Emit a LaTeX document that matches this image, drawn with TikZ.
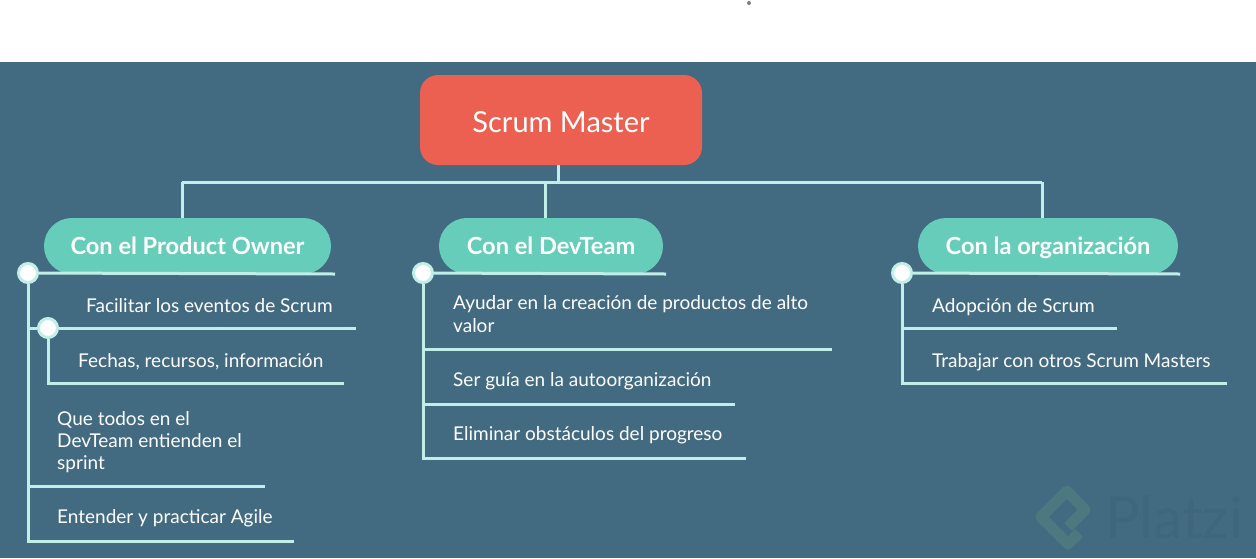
\documentclass[tikz,border=0pt]{standalone}
\usepackage{fontspec}
\setmainfont{Lato}
\usepackage{tikz}
\definecolor{slateback}{HTML}{426A81}
\definecolor{rootred}{HTML}{EC6052}
\definecolor{pillgreen}{HTML}{67CDBB}
\definecolor{linemint}{HTML}{C3EEE8}
\definecolor{logogreen}{HTML}{4C7880}
\definecolor{logotext}{HTML}{3F667C}
\tikzset{
    rootbox/.style={fill=rootred, rounded corners=18pt, minimum width=282pt, minimum height=90pt, text=white, text height=24pt, text depth=0pt, font=\fontsize{29}{34}\selectfont, inner sep=0pt},
    pillbox/.style={fill=pillgreen, rounded corners=27.9pt, minimum height=56pt, text=white, text height=16pt, text depth=0pt, font=\fontsize{23.6}{28}\bfseries\selectfont, inner sep=0pt},
    itemtext/.style={anchor=base west, text=white, font=\fontsize{19}{22.3}\selectfont, inner sep=0pt},
    longtext/.style={anchor=west, text=white, font=\fontsize{19}{22.3}\selectfont, align=left, inner sep=0pt},
    dotmark/.style={circle, fill=white, draw=linemint, line width=3pt, minimum size=19pt, inner sep=0pt},
    wire/.style={draw=linemint, line width=3pt},
}
\begin{document}
\begin{tikzpicture}[x=1pt, y=-1pt]
    \useasboundingbox (0,0) rectangle (1256,558);
    \fill[white] (0,0) rectangle (1256,558);
    \fill[slateback] (0,62) rectangle (1256,558);
    \fill[gray] (749,3) circle (2);

    % watermark
    \draw[logogreen, line width=11pt, line join=round] (1068,527) -- (1085,510) -- (1067,491) -- (1041,517) -- (1068,544) -- (1079,533);
    \node[text=logotext, font=\fontsize{58}{62}\selectfont, anchor=west, inner sep=0pt] (logoword) at (1105,517) {Platzi};

    % boxes
    \node[rootbox] (root) at (561,120) {Scrum Master};
    \node[pillbox, minimum width=287pt] (owner) at (187.5,246) {Con el Product Owner};
    \node[pillbox, minimum width=224pt] (devteam) at (551,246) {Con el DevTeam};
    \node[pillbox, minimum width=260pt] (orga) at (1048,246) {Con la organización};

    % top connectors
    \coordinate (rootfoot) at (558,165);
    \coordinate (bus) at (558,182);
    \coordinate (busl) at (182,182);
    \coordinate (busm) at (545,182);
    \coordinate (busr) at (1042,182);
    \coordinate (ownertop) at (182,218);
    \coordinate (devtop) at (545,218);
    \coordinate (orgatop) at (1042,218);
    \draw[wire] (rootfoot) -- (bus);
    \draw[wire] (busl) -- (busr);
    \draw[wire] (busl) -- (ownertop);
    \draw[wire] (busm) -- (devtop);
    \draw[wire] (busr) -- (orgatop);

    % left column
    \node[itemtext] (facil) at (86,312) {Facilitar los eventos de Scrum};
    \node[itemtext] (fechas) at (78,367) {Fechas, recursos, información};
    \node[longtext] (quetodos) at (57,442) {Que todos en el\\DevTeam entienden el\\sprint};
    \node[itemtext] (agile) at (57,523) {Entender y practicar Agile};
    \coordinate (ownerend) at (335,274);
    \coordinate (facilstart) at (28,328);
    \coordinate (facilend) at (356,328);
    \coordinate (fechascorner) at (48,383);
    \coordinate (fechasend) at (344,383);
    \coordinate (todosstart) at (28,486);
    \coordinate (todosend) at (265,486);
    \coordinate (agilecorner) at (28,541);
    \coordinate (agileend) at (294,541);
    \node[dotmark] (dotowner) at (28,273) {};
    \node[dotmark] (dotfacil) at (48,328) {};
    \draw[wire] (dotowner) -- (ownerend);
    \draw[wire] (dotowner) -- (agilecorner) -- (agileend);
    \draw[wire] (facilstart) -- (dotfacil) -- (facilend);
    \draw[wire] (dotfacil) -- (fechascorner) -- (fechasend);
    \draw[wire] (todosstart) -- (todosend);

    % middle column
    \node[longtext] (ayudar) at (453,314) {Ayudar en la creación de productos de alto\\valor};
    \node[itemtext] (guia) at (453,386) {Ser guía en la autoorganización};
    \node[itemtext] (elim) at (453,440) {Eliminar obstáculos del progreso};
    \coordinate (devend) at (666,274);
    \coordinate (ayudarstart) at (423,349);
    \coordinate (ayudarend) at (832,349);
    \coordinate (guiastart) at (423,404);
    \coordinate (guiaend) at (735,404);
    \coordinate (elimcorner) at (423,458);
    \coordinate (elimend) at (746,458);
    \node[dotmark] (dotdev) at (423,273) {};
    \draw[wire] (dotdev) -- (devend);
    \draw[wire] (dotdev) -- (elimcorner) -- (elimend);
    \draw[wire] (ayudarstart) -- (ayudarend);
    \draw[wire] (guiastart) -- (guiaend);

    % right column
    \node[itemtext] (adopcion) at (932,312) {Adopción de Scrum};
    \node[itemtext] (trabajar) at (932,367) {Trabajar con otros Scrum Masters};
    \coordinate (orgaend) at (1180,274);
    \coordinate (adopstart) at (902,328);
    \coordinate (adopend) at (1117,328);
    \coordinate (trabcorner) at (902,383);
    \coordinate (trabend) at (1227,383);
    \node[dotmark] (dotorga) at (902,273) {};
    \draw[wire] (dotorga) -- (orgaend);
    \draw[wire] (dotorga) -- (trabcorner) -- (trabend);
    \draw[wire] (adopstart) -- (adopend);
\end{tikzpicture}
\end{document}
